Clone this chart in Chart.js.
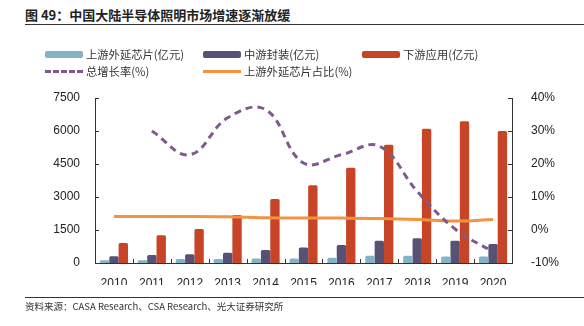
<!DOCTYPE html>
<html>
<head>
<meta charset="utf-8">
<script src="https://cdn.jsdelivr.net/npm/chart.js@4/dist/chart.umd.min.js"></script>
<style>
  body { margin: 0; background: #fff; }
  #wrap { position: relative; width: 584px; height: 326px; font-family: "Liberation Sans", "Noto Sans CJK SC", sans-serif; color: #222; }
  #title { position: absolute; left: 25px; top: 5px; font: bold 13px "Noto Sans CJK SC", sans-serif; color: #222; white-space: nowrap; }
  .rule { position: absolute; left: 25px; right: 0; height: 0; border-top: 1.5px solid #333; }
  #legend { position: absolute; left: 0; top: 0; width: 584px; height: 1px; }
  .item { position: absolute; display: flex; align-items: center; font: 11.3px "Noto Sans CJK SC", sans-serif; color: #333; white-space: nowrap; }
  .sw { width: 38px; margin-right: 3px; }
  #source { position: absolute; left: 25px; top: 299px; font: 9.5px "Noto Sans CJK SC", sans-serif; color: #333; white-space: nowrap; }
  #chart { position: absolute; left: 0; top: 0; }
</style>
</head>
<body>
<div id="wrap">
  <div id="title">图 49：中国大陆半导体照明市场增速逐渐放缓</div>
  <div class="rule" style="top:24px"></div>
  <canvas id="chart" width="584" height="326"></canvas>
  <div id="legend"></div>
  <div class="rule" style="top:297px"></div>
  <div id="source">资料来源：CASA Research、CSA Research、光大证券研究所</div>
</div>
<script>
const years = ['2010', '2011', '2012', '2013', '2014', '2015', '2016', '2017', '2018', '2019', '2020'];
const upstream = [130, 130, 180, 180, 200, 200, 240, 330, 330, 290, 290];
const packaging = [310, 360, 400, 470, 590, 700, 820, 1010, 1120, 1010, 860];
const application = [910, 1260, 1545, 2180, 2910, 3530, 4330, 5380, 6100, 6440, 6000];
const growthRate = [null, 30, 22.8, 34, 36.5, 20.3, 22.8, 25.4, 11.7, 0.3, -6.6];
const upstreamShare = [4.1, 4.1, 4.1, 4.0, 3.7, 3.6, 3.6, 3.5, 3.2, 2.7, 3.2];

const leftTicks = { min: 0, max: 7500, step: 1500 };
const rightTicks = { min: -10, max: 40, step: 10 };

const tickFont = { family: '"Liberation Sans", Arial, sans-serif', size: 12 };

// short tick marks pointing into the plot area
const innerTicks = {
    id: 'innerTicks',
    afterDraw(chart) {
        const { ctx, chartArea: a, scales } = chart;
        ctx.save();
        ctx.strokeStyle = '#333';
        ctx.lineWidth = 1;
        ctx.beginPath();
        scales.y.ticks.forEach(t => {
            const y = Math.round(scales.y.getPixelForValue(t.value)) + 0.5;
            ctx.moveTo(a.left, y); ctx.lineTo(a.left + 4, y);
        });
        scales.y1.ticks.forEach(t => {
            const y = Math.round(scales.y1.getPixelForValue(t.value)) + 0.5;
            ctx.moveTo(a.right, y); ctx.lineTo(a.right - 4, y);
        });
        const n = years.length;
        for (let i = 1; i < n; i++) {
            const x = Math.round((scales.x.getPixelForTick(i - 1) + scales.x.getPixelForTick(i)) / 2) + 0.5;
            ctx.moveTo(x, a.bottom); ctx.lineTo(x, a.bottom - 4);
        }
        ctx.stroke();
        ctx.restore();
    }
};

const data = {
    labels: years,
    datasets: [
        {
            type: 'bar', label: '上游外延芯片(亿元)', data: upstream,
            backgroundColor: '#85b3c6', yAxisID: 'y', order: 2, borderRadius: 1.5
        },
        {
            type: 'bar', label: '中游封装(亿元)', data: packaging,
            backgroundColor: '#575173', yAxisID: 'y', order: 2, borderRadius: 1.5
        },
        {
            type: 'bar', label: '下游应用(亿元)', data: application,
            backgroundColor: '#c74426', yAxisID: 'y', order: 2, borderRadius: 1.5
        },
        {
            type: 'line', label: '总增长率(%)', data: growthRate,
            borderColor: '#7e5a8f', borderWidth: 3, borderDash: [7, 5],
            pointRadius: 0, tension: 0.4, yAxisID: 'y1', order: 0
        },
        {
            type: 'line', label: '上游外延芯片占比(%)', data: upstreamShare,
            borderColor: '#f29340', borderWidth: 3,
            pointRadius: 0, tension: 0.4, yAxisID: 'y1', order: 1
        }
    ]
};

const config = {
    data: data,
    options: {
        responsive: false,
        animation: false,
        layout: { padding: { left: 25, right: 22, top: 98, bottom: 41 } },
        plugins: {
            legend: { display: false },
            tooltip: { enabled: false }
        },
        datasets: {
            bar: { categoryPercentage: 0.74, barPercentage: 1 }
        },
        scales: {
            x: {
                grid: { display: false },
                border: { color: '#333', width: 1 },
                ticks: { color: '#222', font: tickFont, padding: 5, maxRotation: 0 },
                afterFit(s) { s.height = 22; }
            },
            y: {
                position: 'left',
                min: leftTicks.min, max: leftTicks.max,
                grid: { display: false },
                border: { color: '#333', width: 1 },
                ticks: { stepSize: leftTicks.step, color: '#222', font: tickFont, padding: 7,
                    callback: v => String(v) },
                afterFit(s) { s.width = 70; }
            },
            y1: {
                position: 'right',
                min: rightTicks.min, max: rightTicks.max,
                grid: { display: false },
                border: { color: '#333', width: 1 },
                ticks: { stepSize: rightTicks.step, color: '#222', font: tickFont, padding: 11,
                    callback: v => v + '%' },
                afterFit(s) { s.width = 50; }
            }
        }
    },
    plugins: [innerTicks]
};

const myChart = new Chart(document.getElementById('chart'), config);

// legend laid out in a three-column grid
const legendPos = [[45, 46], [203, 46], [362, 46], [45, 63], [203, 63]];
const legendBox = document.getElementById('legend');
data.datasets.forEach((ds, i) => {
    const item = document.createElement('div');
    item.className = 'item';
    item.style.left = legendPos[i][0] + 'px';
    item.style.top = legendPos[i][1] + 'px';
    const sw = document.createElement('span');
    sw.className = 'sw';
    if (ds.type === 'bar') {
        sw.style.height = '7px';
        sw.style.borderRadius = '2px';
        sw.style.background = ds.backgroundColor;
    } else if (ds.borderDash) {
        sw.style.height = '0';
        sw.style.borderTop = '3px dashed ' + ds.borderColor;
    } else {
        sw.style.height = '3px';
        sw.style.background = ds.borderColor;
    }
    item.appendChild(sw);
    item.appendChild(document.createTextNode(ds.label));
    legendBox.appendChild(item);
});
</script>
</body>
</html>
